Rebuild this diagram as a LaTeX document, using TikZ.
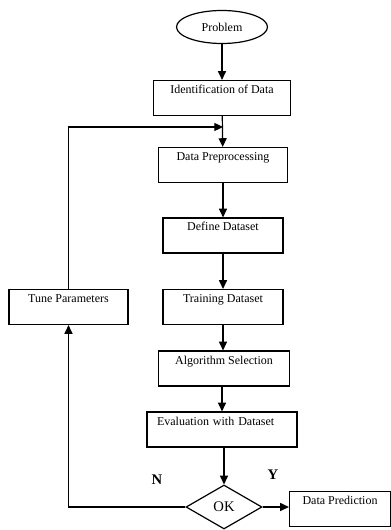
\documentclass[tikz,border=0pt]{standalone}
\usepackage{fontspec}
\setmainfont{Liberation Serif}
\usetikzlibrary{shapes.geometric,arrows.meta}
\tikzset{every picture/.style={line width=0.75pt}}
\tikzset{
  flowbox/.style={draw, line width=0.9pt, inner xsep=2pt, inner ysep=0pt,
    text height=9.75pt, text depth=16.5pt, font=\fontsize{9}{10}\selectfont},
  flowarrow/.style={line width=0.9pt, -{Triangle[length=6.5pt,width=6pt]}},
  flowlabel/.style={inner sep=0.75pt, font=\fontsize{11}{12}\selectfont\bfseries},
}

\begin{document}
\begin{tikzpicture}[x=0.75pt,y=0.75pt,yscale=-1,xscale=1]
\useasboundingbox (0,0) rectangle (391,530);

%Shape: Ellipse [id:problem]
\node [draw, ellipse, line width=0.9pt, minimum width=68.25pt, minimum height=24.75pt, inner sep=0pt, font=\fontsize{9}{10}\selectfont] (problem) at (222,27) {Problem};
%Shape: Rectangle [id:ident]
\node [flowbox, minimum width=102.75pt] (ident) at (222,98) {Identification of Data};
%Shape: Rectangle [id:preproc]
\node [flowbox, minimum width=96.75pt] (preproc) at (223,165) {Data Preprocessing};
%Shape: Rectangle [id:define]
\node [flowbox, minimum width=90pt] (define) at (223,235.5) {Define Dataset};
%Shape: Rectangle [id:training]
\node [flowbox, minimum width=90pt] (training) at (223,307) {Training Dataset};
%Shape: Rectangle [id:algo]
\node [flowbox, minimum width=98.25pt] (algo) at (224,368.5) {Algorithm Selection};
%Shape: Rectangle [id:eval]
\node [flowbox, inner xsep=7.5pt, text width=97.5pt, align=left] (eval) at (222,429.5) {Evaluation with Dataset};
%Shape: Diamond [id:ok]
\node [draw, diamond, line width=0.9pt, minimum width=57pt, minimum height=33pt, inner sep=0pt, aspect=1.7, font=\fontsize{11}{12}\selectfont] (ok) at (224,507) {OK};
%Shape: Rectangle [id:tune]
\node [flowbox, minimum width=89.25pt] (tune) at (68.5,307) {Tune Parameters};
%Shape: Rectangle [id:predict]
\node [flowbox, minimum width=75.75pt] (predict) at (340,509) {Data Prediction};

%Straight Lines [id:main flow]
\draw [flowarrow] (problem) -- (ident);
\draw [flowarrow] (ident) -- (preproc);
\draw [flowarrow] (preproc) -- (define);
\draw [flowarrow] (define) -- (training);
\draw [flowarrow] (training) -- (algo.north -| training);
\draw [flowarrow] (algo.south -| eval) -- (eval);
\draw [flowarrow] (eval.south -| ok) -- (ok);
%Straight Lines [id:yes branch]
\draw [flowarrow] (ok.east) -- (ok.east -| predict.west);
%Straight Lines [id:no branch]
\coordinate (join) at (223,127);
\draw [flowarrow] (ok.west) -| (tune.south);
\draw [flowarrow] (tune.north) |- (join);

% Text Node
\node [flowlabel] (nolabel) at (157,480) {N};
% Text Node
\node [flowlabel] (yeslabel) at (273,475) {Y};

\end{tikzpicture}
\end{document}
